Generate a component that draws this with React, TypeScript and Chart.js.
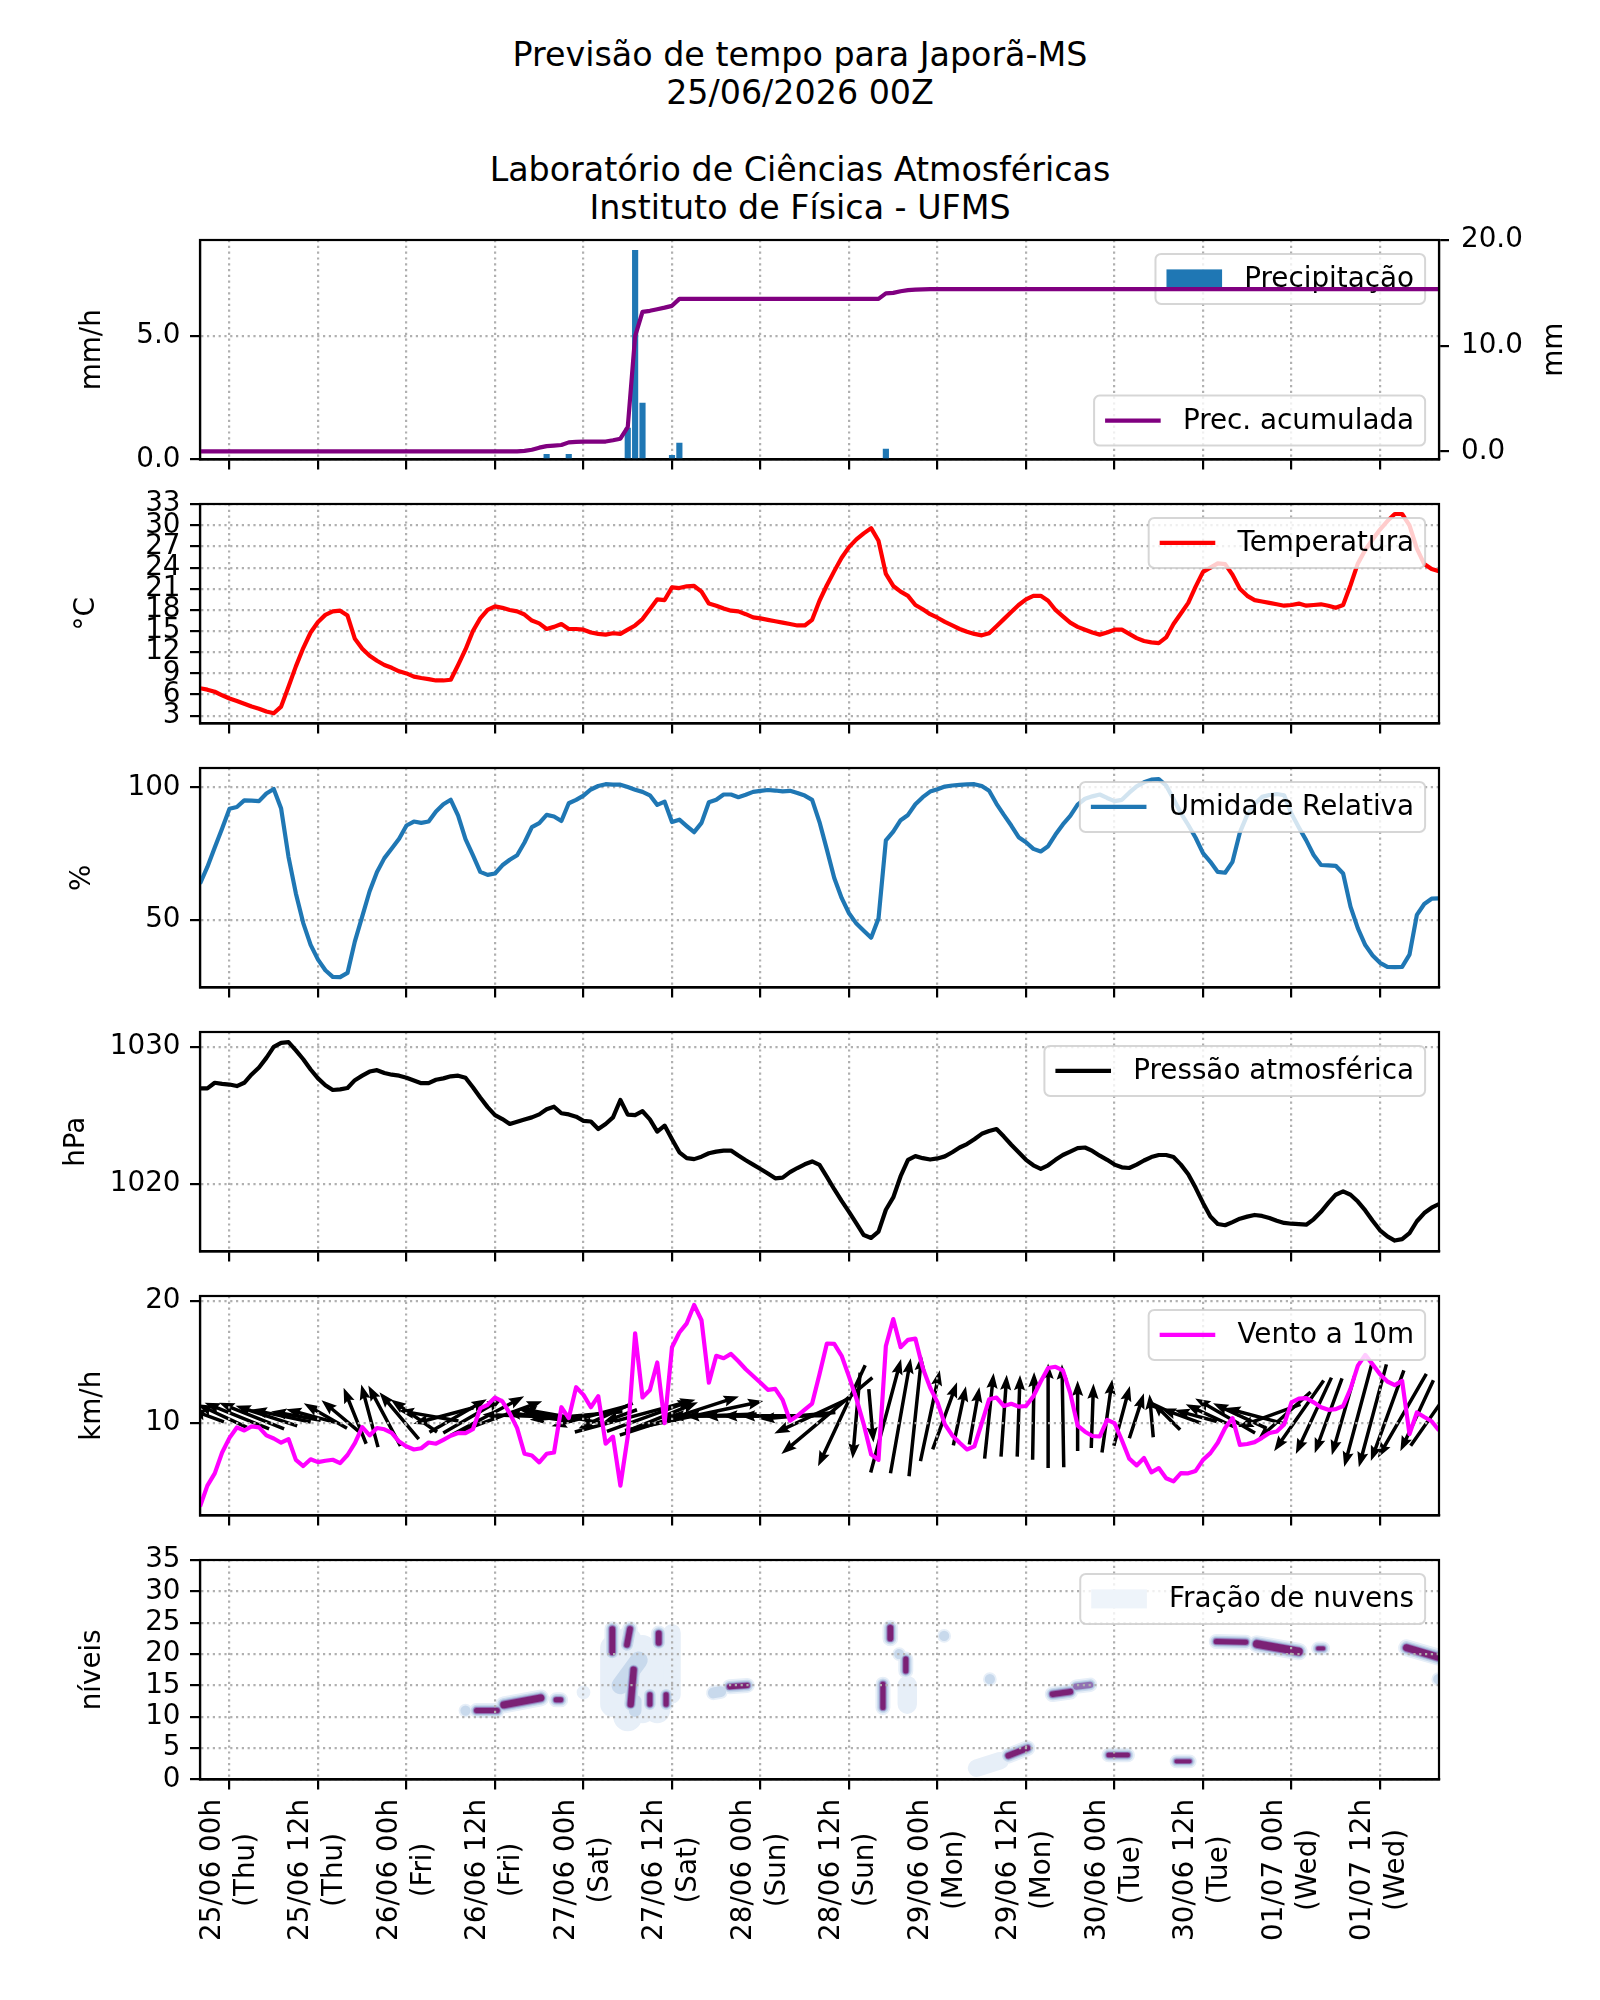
import { useEffect, useRef } from "react";
import { Chart, registerables } from "chart.js";

Chart.register(...registerables);

// ---------------------------------------------------------------------------
// Forecast data, hourly, hours counted from 25/06 00h local time
// ---------------------------------------------------------------------------
const HOURS: number[] = [];
for (let h = -4; h <= 164; h++) HOURS.push(h);

const X_TICK_HOURS = [0, 12, 24, 36, 48, 60, 72, 84, 96, 108, 120, 132, 144, 156];
const X_TICK_LABELS = [
  "25/06 00h", "25/06 12h", "26/06 00h", "26/06 12h", "27/06 00h", "27/06 12h", "28/06 00h",
  "28/06 12h", "29/06 00h", "29/06 12h", "30/06 00h", "30/06 12h", "01/07 00h", "01/07 12h",
];
const X_TICK_DAYS = [
  "(Thu)", "(Thu)", "(Fri)", "(Fri)", "(Sat)", "(Sat)", "(Sun)",
  "(Sun)", "(Mon)", "(Mon)", "(Tue)", "(Tue)", "(Wed)", "(Wed)",
];

// precipitation rate (mm/h), only the hours with rain
const PRECIP_HOURS = [43, 46, 54, 55, 56, 60, 61, 89];
const PRECIP_RATE = [0.21, 0.21, 1.27, 8.46, 2.28, 0.17, 0.66, 0.42];

// accumulated precipitation (mm)
const ACC_HOURS = [-4, 39, 40, 41, 42, 43, 44, 45, 46, 47, 48, 51, 52, 53, 54, 55, 56, 57, 58, 59, 60, 61, 88, 89, 90, 91, 92, 93, 94, 95, 164];
const ACC_MM = [0, 0, 0.05, 0.15, 0.35, 0.5, 0.55, 0.6, 0.85, 0.9, 0.92, 0.93, 1.05, 1.2, 2.3, 10.9, 13.2, 13.3, 13.45, 13.6, 13.77, 14.43, 14.43, 14.95, 15.0, 15.15, 15.25, 15.3, 15.33, 15.35, 15.35];

// 2 m temperature (°C)
const TEMP = [
  6.9, 6.7, 6.4, 5.9, 5.45,
  5.1, 4.7, 4.3, 4.0, 3.6, 3.35, 4.3, 7.1, 10.0, 12.6,
  14.8, 16.3, 17.3, 17.8, 17.9, 17.2, 13.9, 12.5, 11.5, 10.8,
  10.2, 9.8, 9.3, 9.0, 8.55, 8.35, 8.2, 8.0, 8.0, 8.1,
  10.2, 12.4, 15.0, 16.8, 18.0, 18.5, 18.3, 18.0, 17.8, 17.35,
  16.5, 16.1, 15.3, 15.6, 16.0, 15.3, 15.3, 15.2, 14.8, 14.6,
  14.5, 14.7, 14.6, 15.2, 15.8, 16.7, 18.1, 19.5, 19.4, 21.2,
  21.1, 21.35, 21.4, 20.6, 18.9, 18.6, 18.2, 17.9, 17.8, 17.4,
  16.95, 16.8, 16.6, 16.4, 16.2, 16.0, 15.8, 15.8, 16.6, 19.3,
  21.5, 23.5, 25.4, 26.9, 28.0, 28.85, 29.6, 27.8, 23.1, 21.4,
  20.6, 20.0, 18.7, 18.1, 17.4, 16.9, 16.3, 15.8, 15.3, 14.9,
  14.6, 14.4, 14.7, 15.7, 16.7, 17.7, 18.7, 19.5, 20.0, 20.0,
  19.3, 18.0, 17.1, 16.2, 15.6, 15.2, 14.8, 14.5, 14.8, 15.2,
  15.2, 14.6, 14.0, 13.6, 13.4, 13.3, 14.1, 16.0, 17.5, 19.0,
  21.3, 23.4, 24.0, 24.6, 24.5, 23.0, 21.0, 20.0, 19.4, 19.2,
  19.0, 18.8, 18.6, 18.7, 18.9, 18.6, 18.7, 18.8, 18.6, 18.3,
  18.7, 21.5, 24.6, 26.5, 28.0, 29.4, 30.6, 31.6, 31.6, 30.0,
  26.7, 24.5, 23.8, 23.5,
];

// relative humidity (%)
const RH = [
  63.7, 70.0, 77.3, 84.5, 91.9,
  92.6, 95.1, 95.0, 94.8, 97.7, 99.4, 92.0, 73.8, 60.0, 48.8,
  40.6, 35.0, 31.0, 28.5, 28.4, 30.0, 41.9, 51.3, 60.8, 68.1,
  73.3, 76.9, 80.6, 85.6, 87.1, 86.6, 87.1, 90.9, 93.6, 95.3,
  89.3, 80.5, 74.4, 68.1, 67.0, 67.5, 70.6, 72.7, 74.4, 79.2,
  85.0, 86.5, 89.6, 89.0, 87.3, 94.0, 95.3, 96.9, 99.2, 100.5,
  101.2, 101.0, 101.0, 100.1, 99.1, 98.3, 97.0, 93.4, 94.6, 86.9,
  87.8, 85.4, 83.1, 86.6, 94.4, 95.3, 97.3, 97.3, 96.3, 97.2,
  98.3, 98.7, 99.0, 98.8, 98.5, 98.7, 97.9, 96.9, 95.3, 86.9,
  76.5, 65.8, 58.3, 52.5, 48.6, 45.9, 43.3, 50.5, 80.0, 83.3,
  87.6, 89.6, 93.6, 96.3, 98.4, 99.3, 100.3, 100.7, 100.9, 101.1,
  101.2, 100.5, 98.7, 93.8, 89.6, 85.6, 81.2, 79.3, 76.8, 75.8,
  77.8, 82.2, 86.0, 89.2, 93.5, 95.7, 96.6, 97.3, 96.0, 94.8,
  95.3, 98.0, 100.4, 101.9, 102.9, 103.1, 100.7, 95.6, 90.3, 85.8,
  81.0, 75.2, 71.9, 68.1, 67.8, 71.9, 83.0, 89.6, 93.7, 96.4,
  97.1, 97.5, 97.0, 90.0, 84.9, 80.0, 74.5, 70.7, 70.6, 70.4,
  67.5, 55.0, 46.8, 40.5, 36.6, 33.8, 32.3, 32.2, 32.3, 36.9,
  51.9, 56.0, 58.0, 58.1,
];

// sea level pressure (hPa)
const PRES = [
  1026.97, 1026.97, 1027.38, 1027.3, 1027.25,
  1027.14, 1027.38, 1027.99, 1028.5, 1029.2, 1030.0, 1030.3, 1030.35, 1029.75, 1029.1,
  1028.35, 1027.7, 1027.2, 1026.85, 1026.9, 1027.0, 1027.57, 1027.9, 1028.2, 1028.3,
  1028.1, 1027.97, 1027.9, 1027.75, 1027.55, 1027.35, 1027.35, 1027.6, 1027.7, 1027.85,
  1027.9, 1027.75, 1027.05, 1026.3, 1025.6, 1025.02, 1024.73, 1024.37, 1024.54, 1024.7,
  1024.85, 1025.07, 1025.45, 1025.63, 1025.15, 1025.07, 1024.9, 1024.6, 1024.55, 1024.0,
  1024.37, 1024.85, 1026.12, 1025.05, 1025.02, 1025.3, 1024.7, 1023.81, 1024.25, 1023.25,
  1022.3, 1021.87, 1021.8, 1021.98, 1022.23, 1022.35, 1022.42, 1022.43, 1022.06, 1021.72,
  1021.4, 1021.08, 1020.75, 1020.4, 1020.45, 1020.85, 1021.15, 1021.42, 1021.63, 1021.38,
  1020.5, 1019.6, 1018.75, 1017.95, 1017.1, 1016.25, 1016.04, 1016.5, 1018.1, 1019.0,
  1020.55, 1021.75, 1022.02, 1021.87, 1021.77, 1021.85, 1022.0, 1022.3, 1022.65, 1022.9,
  1023.25, 1023.65, 1023.85, 1024.0, 1023.45, 1022.85, 1022.3, 1021.75, 1021.35, 1021.09,
  1021.35, 1021.75, 1022.1, 1022.35, 1022.6, 1022.65, 1022.4, 1022.05, 1021.75, 1021.4,
  1021.2, 1021.15, 1021.4, 1021.7, 1021.95, 1022.1, 1022.1, 1021.95, 1021.4, 1020.7,
  1019.7, 1018.6, 1017.6, 1017.06, 1016.97, 1017.2, 1017.45, 1017.6, 1017.72, 1017.65,
  1017.5, 1017.3, 1017.14, 1017.08, 1017.05, 1017.01, 1017.4, 1017.95, 1018.6, 1019.2,
  1019.44, 1019.2, 1018.7, 1018.05, 1017.3, 1016.6, 1016.15, 1015.85, 1015.95, 1016.4,
  1017.26, 1017.86, 1018.25, 1018.52,
];

// 10 m wind speed (km/h)
const WIND_SPEED = [
  3.2, 4.9, 5.9, 7.6, 8.8,
  9.65, 9.4, 9.73, 9.65, 9.0, 8.75, 8.4, 8.7, 7.0, 6.5,
  7.05, 6.82, 6.93, 7.01, 6.74, 7.4, 8.37, 9.67, 9.0, 9.6,
  9.5, 9.2, 8.5, 8.1, 7.85, 7.95, 8.42, 8.32, 8.64, 8.97,
  9.2, 9.18, 9.5, 11.2, 11.5, 12.09, 11.77, 10.8, 9.59, 7.5,
  7.36, 6.8, 7.5, 7.6, 11.3, 10.41, 12.93, 12.31, 11.3, 12.2,
  8.32, 8.9, 4.9, 8.9, 17.34, 12.1, 12.7, 14.95, 10.0, 16.2,
  17.4, 18.15, 19.65, 18.4, 13.3, 15.5, 15.3, 15.65, 15.05, 14.4,
  13.85, 13.3, 12.72, 12.8, 11.9, 10.2, 10.6, 11.1, 11.6, 14.0,
  16.5, 16.47, 15.5, 13.8, 12.0, 9.9, 7.45, 7.0, 16.3, 18.5,
  16.2, 16.8, 16.9, 14.5, 12.9, 11.7, 9.9, 9.0, 8.4, 7.85,
  8.1, 10.0, 11.95, 12.09, 11.4, 11.58, 11.35, 11.4, 12.2, 13.4,
  14.5, 14.6, 14.3, 12.45, 9.8, 9.3, 8.95, 8.91, 10.27, 10.0,
  8.6, 7.1, 6.55, 7.15, 5.98, 6.33, 5.5, 5.25, 5.92, 5.9,
  6.1, 7.0, 7.55, 8.4, 9.6, 10.41, 8.23, 8.3, 8.45, 8.8,
  9.2, 9.32, 9.9, 11.7, 12.0, 12.04, 11.7, 11.3, 11.09, 11.14,
  11.4, 12.8, 14.7, 15.57, 14.8, 14.0, 13.4, 13.1, 13.45, 9.1,
  10.87, 10.5, 10.15, 9.4,
];

// 10 m wind direction (degrees, direction the wind blows from)
const WIND_DIR = [
  105, 110, 112, 115, 115,
  112, 110, 112, 110, 108, 105, 102, 100, 100, 102,
  105, 110, 120, 125, 130, 140, 158, 162, 165, 162,
  152, 145, 140, 135, 125, 110, 100, 90, 75, 70,
  240, 242, 240, 240, 242, 245, 250, 90, 92, 95,
  98, 100, 102, 105, 100, 92, 85, 80, 75, 70,
  65, 65, 70, 75, 255, 252, 250, 250, 248, 250,
  252, 255, 258, 260, 88, 90, 90, 90, 90, 90,
  90, 90, 90, 90, 90, 90, 85, 75, 65, 55,
  50, 38, 25, 15, 5, 358, 355, 0, 195, 192,
  190, 188, 186, 188, 192, 198, 200, 195, 192, 190,
  190, 188, 186, 185, 184, 183, 182, 182, 181, 180,
  180, 179, 179, 180, 180, 181, 182, 184, 188, 192,
  195, 198, 198, 195, 175, 150, 135, 120, 110, 105,
  105, 110, 115, 120, 120, 120, 115, 110, 105, 90,
  70, 55, 48, 42, 35, 30, 25, 22, 20, 18,
  16, 15, 15, 14, 15, 16, 20, 25, 30, 20,
  25, 210, 215, 220,
];

// cloud fraction streaks by model level: start/end hour, start/end level,
// fraction and vertical depth (levels)
const CLOUD_H0 = [32, 33.5, 37.2, 44.3, 48, 52, 54, 56, 58, 60, 53, 55, 51.9, 53.9, 58.2, 54.8, 57, 59.2, 65.6, 67.8, 89.6, 90.8, 91.7, 88.6, 91.9, 96.9, 103.1, 101.3, 105.6, 111.6, 114.8, 119.2, 128.4, 133.8, 139.3, 147.6, 159.6, 163.9];
const CLOUD_H1 = [32, 36.3, 42.2, 44.9, 48, 52, 54, 56, 58, 60, 55.5, 55, 51.9, 54.3, 58.2, 54.4, 57, 59.2, 66.6, 70.2, 89.6, 90.8, 91.7, 88.6, 91.9, 96.9, 103.1, 104.5, 108.2, 114, 116.7, 121.8, 130.2, 137.8, 145, 148.3, 163.9, 163.9];
const CLOUD_L0 = [11, 11, 11.9, 12.7, 13.9, 12, 10, 11, 11, 13.5, 15, 11, 20.3, 21.5, 21.8, 17.5, 12, 12, 13.8, 14.8, 22.5, 20, 17.3, 11.5, 12, 22.9, 16, 1.8, 3.8, 13.6, 14.8, 3.9, 2.9, 22, 21.6, 20.9, 21, 16];
const CLOUD_L1 = [11, 11, 13, 12.7, 13.9, 21, 22, 21, 20, 23.4, 19, 12.5, 24, 24, 23.3, 12, 13.5, 13.5, 14, 15, 24.2, 20, 19.2, 15.2, 15, 22.9, 16, 3, 5, 14, 15.1, 3.9, 2.9, 21.9, 20.4, 20.9, 19.5, 16];
const CLOUD_FRAC = [0.3, 0.95, 0.95, 0.9, 0.2, 0.25, 0.25, 0.25, 0.2, 0.2, 0.3, 0.3, 0.95, 0.95, 0.9, 0.95, 0.8, 0.85, 0.4, 0.9, 0.9, 0.4, 0.9, 0.8, 0.15, 0.35, 0.35, 0.15, 0.9, 0.95, 0.75, 0.95, 0.95, 0.95, 0.95, 0.9, 0.95, 0.3];
const CLOUD_DEPTH = [0.6, 0.8, 1.1, 0.8, 0.6, 2.5, 3, 2.5, 2.5, 1.2, 1.8, 1, 0.9, 0.9, 0.9, 1.0, 0.8, 0.8, 0.7, 0.8, 0.9, 0.6, 0.8, 0.8, 1.5, 0.6, 0.6, 1.2, 0.9, 0.9, 0.7, 0.7, 0.6, 0.8, 1.2, 0.6, 1.1, 0.6];

// ---------------------------------------------------------------------------
// Layout and style
// ---------------------------------------------------------------------------
const FONT_FAMILY = "'DejaVu Sans', 'Liberation Sans', sans-serif";
const FONT_PX = 27.8;
const TITLE_PX = 33.3;
const PAGE_W = 1600;
const PLOT_LEFT = 200;
const PLOT_RIGHT = 1439;
const PANEL_TOP0 = 240;
const PANEL_STEP = 264;
const PANEL_H = 219.5;
const PAD_TOP = 40;
const X_MIN = -4;
const X_MAX = 164;

const GRID_COLOR = "#b0b0b0";
const GRID_DASH = [2.2, 3.6];
const LINE_W = 4.2;
const SPINE_W = 2.2;
const TICK_LEN = 10;

const C_BLUE = "#1f77b4";
const C_PURPLE = "#800080";
const C_RED = "#ff0000";
const C_MAGENTA = "#ff00ff";
const C_BLACK = "#000000";
const C_CLOUD_LEGEND = "#eef4fa";

const ARROW_BASE = 10.6; // wind value where the arrow centres sit
const ARROW_PX_PER_KMH = 7.2;
const ARROW_SHAFT = 3.5;

const TITLE_LINES = [
  { text: "Previsão de tempo para Japorã-MS", y: 55 },
  { text: "25/06/2026 00Z", y: 93 },
  { text: "Laboratório de Ciências Atmosféricas", y: 170 },
  { text: "Instituto de Física - UFMS", y: 208 },
];

Chart.defaults.font.family = FONT_FAMILY;
Chart.defaults.font.size = FONT_PX;
Chart.defaults.color = "#000";

// ---------------------------------------------------------------------------
// Drawing helpers
// ---------------------------------------------------------------------------
type LegendItem = {
  label: string;
  kind: "line" | "patch";
  color: string;
  corner: "ur" | "lr";
  afterDataset?: number;
};

type PanelSpec = {
  yTitle: string;
  yTitleX: number;
  rightTitle?: string;
  rightTitleX?: number;
  legends: LegendItem[];
  underlay?: (chart: any) => void;
  xLabels?: boolean;
};

function roundRect(ctx: CanvasRenderingContext2D, x: number, y: number, w: number, h: number, r: number) {
  ctx.beginPath();
  ctx.moveTo(x + r, y);
  ctx.lineTo(x + w - r, y);
  ctx.arcTo(x + w, y, x + w, y + r, r);
  ctx.lineTo(x + w, y + h - r);
  ctx.arcTo(x + w, y + h, x + w - r, y + h, r);
  ctx.lineTo(x + r, y + h);
  ctx.arcTo(x, y + h, x, y + h - r, r);
  ctx.lineTo(x, y + r);
  ctx.arcTo(x, y, x + r, y, r);
  ctx.closePath();
}

function drawLegend(ctx: CanvasRenderingContext2D, area: any, item: LegendItem) {
  ctx.save();
  ctx.font = `${FONT_PX}px ${FONT_FAMILY}`;
  const tw = ctx.measureText(item.label).width;
  const pad = 11;
  const handleW = 55.6;
  const gap = 22.2;
  const axPad = 13.9;
  const w = pad + handleW + gap + tw + pad;
  const h = 50;
  const x = area.right - axPad - w;
  const y = item.corner === "ur" ? area.top + axPad : area.bottom - axPad - h;
  roundRect(ctx, x, y, w, h, 5.6);
  ctx.fillStyle = "rgba(255,255,255,0.8)";
  ctx.fill();
  ctx.strokeStyle = "rgba(204,204,204,0.8)";
  ctx.lineWidth = 2;
  ctx.stroke();
  const cy = y + h / 2;
  if (item.kind === "line") {
    ctx.strokeStyle = item.color;
    ctx.lineWidth = LINE_W;
    ctx.beginPath();
    ctx.moveTo(x + pad, cy);
    ctx.lineTo(x + pad + handleW, cy);
    ctx.stroke();
  } else {
    ctx.fillStyle = item.color;
    ctx.fillRect(x + pad, cy - 9.5, handleW, 19);
  }
  ctx.fillStyle = "#000";
  ctx.textBaseline = "middle";
  ctx.textAlign = "left";
  ctx.fillText(item.label, x + pad + handleW + gap, cy + 1);
  ctx.restore();
}

function drawRotatedText(ctx: CanvasRenderingContext2D, text: string, x: number, y: number) {
  ctx.save();
  ctx.font = `${FONT_PX}px ${FONT_FAMILY}`;
  ctx.fillStyle = "#000";
  ctx.translate(x, y);
  ctx.rotate(-Math.PI / 2);
  ctx.textAlign = "center";
  ctx.textBaseline = "middle";
  ctx.fillText(text, 0, 0);
  ctx.restore();
}

function drawTimeLabels(chart: any) {
  const { ctx, chartArea: a, scales } = chart;
  ctx.save();
  ctx.font = `${FONT_PX}px ${FONT_FAMILY}`;
  ctx.fillStyle = "#000";
  const top = a.bottom + TICK_LEN + 9.5;
  X_TICK_HOURS.forEach((h, i) => {
    const x = scales.x.getPixelForValue(h);
    const l1 = X_TICK_LABELS[i];
    const l2 = X_TICK_DAYS[i];
    const bw = Math.max(ctx.measureText(l1).width, ctx.measureText(l2).width);
    ctx.save();
    ctx.translate(x, top + bw / 2);
    ctx.rotate(-Math.PI / 2);
    ctx.textAlign = "center";
    ctx.textBaseline = "middle";
    ctx.fillText(l1, 0, -17);
    ctx.fillText(l2, 0, 17);
    ctx.restore();
  });
  ctx.restore();
}

// quiver-style arrows, one every second model hour, centred on ARROW_BASE
function drawWindArrows(chart: any) {
  const { ctx, chartArea: a, scales } = chart;
  const yc = scales.y.getPixelForValue(ARROW_BASE);
  const sw = ARROW_SHAFT;
  ctx.save();
  ctx.beginPath();
  ctx.rect(a.left, a.top, a.right - a.left, a.bottom - a.top);
  ctx.clip();
  ctx.fillStyle = "#000";
  HOURS.forEach((h, i) => {
    if (i % 2 === 0) return;
    const s = WIND_SPEED[i];
    const d = (WIND_DIR[i] * Math.PI) / 180;
    const u = -s * Math.sin(d);
    const v = -s * Math.cos(d);
    const dx = u * ARROW_PX_PER_KMH;
    const dy = -v * ARROW_PX_PER_KMH;
    const L = Math.hypot(dx, dy);
    if (L < 1) return;
    const ex = dx / L;
    const ey = dy / L;
    const nx = -ey;
    const ny = ex;
    const xc = scales.x.getPixelForValue(h);
    const x0 = xc - dx / 2;
    const y0 = yc - dy / 2;
    let hl = 4.4 * sw;
    let ha = 3.9 * sw;
    let hw = 3.2 * sw;
    if (L < hl) {
      const f = L / hl;
      hl *= f;
      ha *= f;
      hw *= f;
    }
    const pts = [
      [0, -sw / 2], [L - ha, -sw / 2], [L - hl, -hw / 2], [L, 0],
      [L - hl, hw / 2], [L - ha, sw / 2], [0, sw / 2],
    ];
    ctx.beginPath();
    pts.forEach(([p, q], k) => {
      const px = x0 + ex * p + nx * q;
      const py = y0 + ey * p + ny * q;
      if (k === 0) ctx.moveTo(px, py);
      else ctx.lineTo(px, py);
    });
    ctx.closePath();
    ctx.fill();
  });
  ctx.restore();
}

// filled levels, lightest first: each streak is widened by `grow` pixels
const CLOUD_PASSES = [
  { minFrac: 0, grow: 10, color: "#e7eff8" },
  { minFrac: 0.3, grow: 6.5, color: "#c8d9ec" },
  { minFrac: 0.5, grow: 3.8, color: "#a9bddc" },
  { minFrac: 0.65, grow: 1.8, color: "#9070b3" },
  { minFrac: 0.8, grow: 0, color: "#7b2175" },
];

function drawClouds(chart: any) {
  const { ctx, chartArea: a, scales } = chart;
  const pxPerLevel = Math.abs(scales.y.getPixelForValue(1) - scales.y.getPixelForValue(0));
  ctx.save();
  ctx.beginPath();
  ctx.rect(a.left, a.top, a.right - a.left, a.bottom - a.top);
  ctx.clip();
  ctx.lineCap = "round";
  ctx.lineJoin = "round";
  CLOUD_PASSES.forEach((p) => {
    ctx.strokeStyle = p.color;
    CLOUD_H0.forEach((h0, i) => {
      if (CLOUD_FRAC[i] < p.minFrac) return;
      const x0 = scales.x.getPixelForValue(h0);
      const x1 = scales.x.getPixelForValue(CLOUD_H1[i]);
      const y0 = scales.y.getPixelForValue(CLOUD_L0[i]);
      const y1 = scales.y.getPixelForValue(CLOUD_L1[i]);
      ctx.lineWidth = CLOUD_DEPTH[i] * pxPerLevel + p.grow;
      ctx.beginPath();
      ctx.moveTo(x0, y0);
      ctx.lineTo(x1 + 0.01, y1 + 0.01);
      ctx.stroke();
    });
  });
  ctx.restore();
}

function panelPlugin(spec: PanelSpec) {
  return {
    id: "panelDecor",
    beforeDraw(chart: any) {
      if (spec.underlay) spec.underlay(chart);
    },
    afterDatasetDraw(chart: any, args: any) {
      spec.legends
        .filter((l) => l.afterDataset === args.index)
        .forEach((l) => drawLegend(chart.ctx, chart.chartArea, l));
    },
    afterDraw(chart: any) {
      const { ctx, chartArea: a } = chart;
      ctx.save();
      ctx.strokeStyle = "#000";
      ctx.lineWidth = SPINE_W;
      ctx.strokeRect(a.left, a.top, a.right - a.left, a.bottom - a.top);
      ctx.restore();
      const mid = (a.top + a.bottom) / 2;
      drawRotatedText(ctx, spec.yTitle, spec.yTitleX, mid);
      if (spec.rightTitle) drawRotatedText(ctx, spec.rightTitle, spec.rightTitleX || 1555, mid);
      spec.legends
        .filter((l) => l.afterDataset === undefined)
        .forEach((l) => drawLegend(ctx, a, l));
      if (spec.xLabels) drawTimeLabels(chart);
    },
  };
}

// ---------------------------------------------------------------------------
// Scales and chart configs
// ---------------------------------------------------------------------------
function xScale(height: number) {
  return {
    type: "linear",
    position: "bottom",
    min: X_MIN,
    max: X_MAX,
    offset: false,
    afterBuildTicks: (s: any) => {
      s.ticks = X_TICK_HOURS.map((v) => ({ value: v }));
    },
    afterFit: (s: any) => {
      s.height = height;
    },
    ticks: { display: false, autoSkip: false },
    grid: {
      display: true,
      offset: false,
      color: GRID_COLOR,
      lineWidth: 2.2,
      tickLength: TICK_LEN,
      tickColor: "#000",
      tickWidth: SPINE_W,
    },
    border: { display: true, color: "#000", width: SPINE_W, dash: GRID_DASH },
  };
}

function yScale(o: {
  min: number;
  max: number;
  ticks: number[];
  fmt: (v: number) => string;
  position?: "left" | "right";
  gridOnChart?: boolean;
}) {
  const right = o.position === "right";
  return {
    type: "linear",
    position: o.position || "left",
    min: o.min,
    max: o.max,
    afterBuildTicks: (s: any) => {
      s.ticks = o.ticks.map((v) => ({ value: v }));
    },
    afterFit: (s: any) => {
      s.width = right ? PAGE_W - PLOT_RIGHT : PLOT_LEFT;
    },
    ticks: {
      autoSkip: false,
      color: "#000",
      padding: right ? 12 : 9.5,
      font: { family: FONT_FAMILY, size: FONT_PX },
      callback: (v: any) => o.fmt(Number(v)),
    },
    grid: {
      display: true,
      drawOnChartArea: o.gridOnChart !== false,
      color: GRID_COLOR,
      lineWidth: 2.2,
      tickLength: TICK_LEN,
      tickColor: "#000",
      tickWidth: SPINE_W,
    },
    border: { display: true, color: "#000", width: SPINE_W, dash: GRID_DASH },
  };
}

function baseOptions(xh: number, yScales: any, padRight: number) {
  return {
    animation: false,
    responsive: false,
    maintainAspectRatio: false,
    devicePixelRatio: 1,
    events: [],
    layout: { padding: { left: 0, right: padRight, top: PAD_TOP, bottom: 0 } },
    plugins: { legend: { display: false }, tooltip: { enabled: false }, title: { display: false } },
    scales: { x: xScale(xh), ...yScales },
  };
}

function lineSet(label: string, values: number[], color: string, extra: any = {}) {
  return {
    type: "line",
    label,
    data: HOURS.map((h, i) => ({ x: h, y: values[i] })),
    borderColor: color,
    backgroundColor: color,
    borderWidth: LINE_W,
    pointRadius: 0,
    tension: 0,
    fill: false,
    borderJoinStyle: "round",
    ...extra,
  };
}

const fmt1 = (v: number) => v.toFixed(1);
const fmt0 = (v: number) => String(Math.round(v));

function buildPrecip(xh: number): any {
  return {
    type: "line",
    data: {
      datasets: [
        {
          type: "bar",
          label: "Precipitação",
          data: PRECIP_HOURS.map((h, i) => ({ x: h, y: PRECIP_RATE[i] })),
          backgroundColor: C_BLUE,
          borderWidth: 0,
          barThickness: 5.5,
          grouped: false,
          yAxisID: "y",
          order: 2,
        },
        {
          type: "line",
          label: "Prec. acumulada",
          data: ACC_HOURS.map((h, i) => ({ x: h, y: ACC_MM[i] })),
          borderColor: C_PURPLE,
          backgroundColor: C_PURPLE,
          borderWidth: LINE_W,
          pointRadius: 0,
          tension: 0,
          fill: false,
          borderJoinStyle: "round",
          yAxisID: "y2",
          order: 1,
        },
      ],
    },
    options: baseOptions(
      xh,
      {
        y: yScale({ min: 0, max: 8.88, ticks: [0, 5], fmt: fmt1 }),
        y2: yScale({ min: -0.77, max: 20, ticks: [0, 10, 20], fmt: fmt1, position: "right", gridOnChart: false }),
      },
      0
    ),
    plugins: [
      panelPlugin({
        yTitle: "mm/h",
        yTitleX: 93,
        rightTitle: "mm",
        rightTitleX: 1555,
        legends: [
          { label: "Precipitação", kind: "patch", color: C_BLUE, corner: "ur", afterDataset: 0 },
          { label: "Prec. acumulada", kind: "line", color: C_PURPLE, corner: "lr" },
        ],
      }),
    ],
  };
}

function buildTemp(xh: number): any {
  return {
    type: "line",
    data: { datasets: [lineSet("Temperatura", TEMP, C_RED)] },
    options: baseOptions(
      xh,
      { y: yScale({ min: 1.9, max: 33.02, ticks: [3, 6, 9, 12, 15, 18, 21, 24, 27, 30, 33], fmt: fmt0 }) },
      PAGE_W - PLOT_RIGHT
    ),
    plugins: [
      panelPlugin({
        yTitle: "°C",
        yTitleX: 87,
        legends: [{ label: "Temperatura", kind: "line", color: C_RED, corner: "ur" }],
      }),
    ],
  };
}

function buildRH(xh: number): any {
  return {
    type: "line",
    data: { datasets: [lineSet("Umidade Relativa", RH, C_BLUE)] },
    options: baseOptions(xh, { y: yScale({ min: 24.5, max: 107.3, ticks: [50, 100], fmt: fmt0 }) }, PAGE_W - PLOT_RIGHT),
    plugins: [
      panelPlugin({
        yTitle: "%",
        yTitleX: 83,
        legends: [{ label: "Umidade Relativa", kind: "line", color: C_BLUE, corner: "ur" }],
      }),
    ],
  };
}

function buildPres(xh: number): any {
  return {
    type: "line",
    data: { datasets: [lineSet("Pressão atmosférica", PRES, C_BLACK)] },
    options: baseOptions(xh, { y: yScale({ min: 1015.05, max: 1031.09, ticks: [1020, 1030], fmt: fmt0 }) }, PAGE_W - PLOT_RIGHT),
    plugins: [
      panelPlugin({
        yTitle: "hPa",
        yTitleX: 77,
        legends: [{ label: "Pressão atmosférica", kind: "line", color: C_BLACK, corner: "ur" }],
      }),
    ],
  };
}

function buildWind(xh: number): any {
  return {
    type: "line",
    data: { datasets: [lineSet("Vento a 10m", WIND_SPEED, C_MAGENTA)] },
    options: baseOptions(xh, { y: yScale({ min: 2.46, max: 20.38, ticks: [10, 20], fmt: fmt0 }) }, PAGE_W - PLOT_RIGHT),
    plugins: [
      panelPlugin({
        yTitle: "km/h",
        yTitleX: 93,
        underlay: drawWindArrows,
        legends: [{ label: "Vento a 10m", kind: "line", color: C_MAGENTA, corner: "ur" }],
      }),
    ],
  };
}

function buildClouds(xh: number): any {
  return {
    type: "line",
    data: { datasets: [] },
    options: baseOptions(
      xh,
      { y: yScale({ min: 0, max: 35, ticks: [0, 5, 10, 15, 20, 25, 30, 35], fmt: fmt0 }) },
      PAGE_W - PLOT_RIGHT
    ),
    plugins: [
      panelPlugin({
        yTitle: "níveis",
        yTitleX: 93,
        underlay: drawClouds,
        xLabels: true,
        legends: [{ label: "Fração de nuvens", kind: "patch", color: C_CLOUD_LEGEND, corner: "ur" }],
      }),
    ],
  };
}

// ---------------------------------------------------------------------------
// Components
// ---------------------------------------------------------------------------
function Panel({ index, xAxisHeight, build }: { index: number; xAxisHeight: number; build: (xh: number) => any }) {
  const ref = useRef<HTMLCanvasElement | null>(null);
  const top = PANEL_TOP0 + index * PANEL_STEP;
  const height = PAD_TOP + PANEL_H + xAxisHeight;
  useEffect(() => {
    if (!ref.current) return;
    const chart = new Chart(ref.current, build(xAxisHeight));
    return () => chart.destroy();
  }, []);
  return (
    <canvas
      ref={ref}
      width={PAGE_W}
      height={height}
      style={{ position: "absolute", left: 0, top: top - PAD_TOP, width: PAGE_W, height, display: "block" }}
    />
  );
}

export default function App() {
  return (
    <div
      style={{
        position: "absolute",
        left: 0,
        top: 0,
        width: PAGE_W,
        height: 2000,
        background: "#fff",
        fontFamily: FONT_FAMILY,
        color: "#000",
        overflow: "hidden",
      }}
    >
      {TITLE_LINES.map((t) => (
        <div
          key={t.text}
          style={{
            position: "absolute",
            left: 0,
            top: t.y - 20,
            width: PAGE_W,
            height: 40,
            lineHeight: "40px",
            fontSize: TITLE_PX,
            textAlign: "center",
            whiteSpace: "nowrap",
          }}
        >
          {t.text}
        </div>
      ))}
      <Panel index={0} xAxisHeight={30.5} build={buildPrecip} />
      <Panel index={1} xAxisHeight={30.5} build={buildTemp} />
      <Panel index={2} xAxisHeight={30.5} build={buildRH} />
      <Panel index={3} xAxisHeight={30.5} build={buildPres} />
      <Panel index={4} xAxisHeight={30.5} build={buildWind} />
      <Panel index={5} xAxisHeight={190.5} build={buildClouds} />
    </div>
  );
}
